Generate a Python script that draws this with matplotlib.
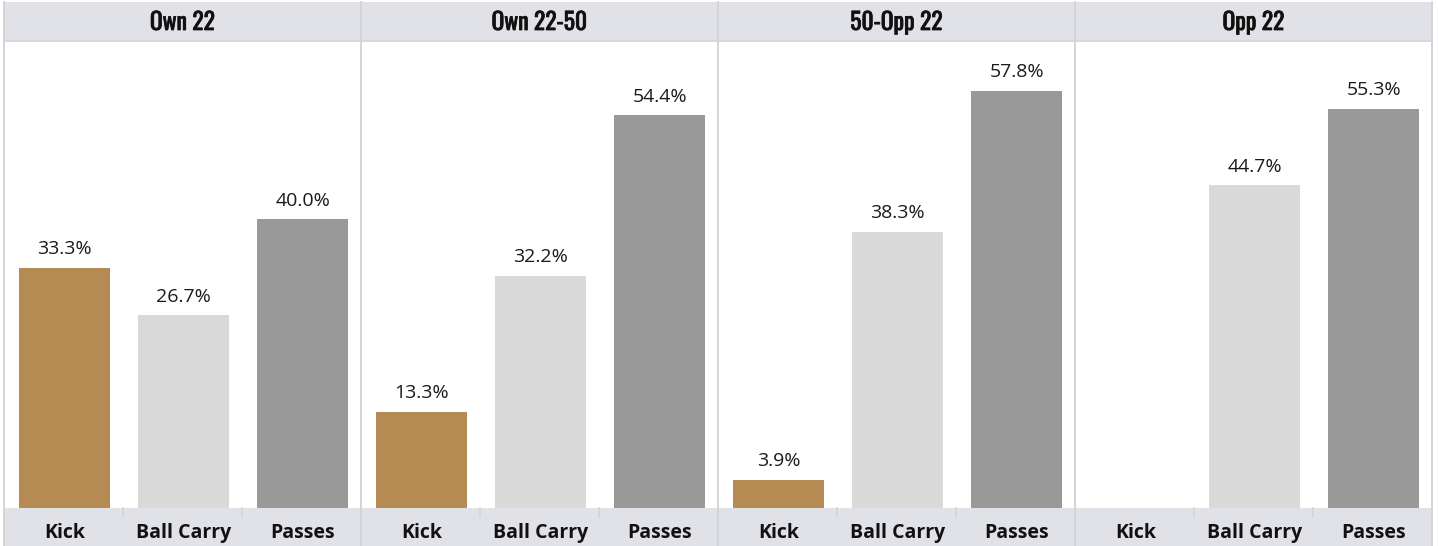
import matplotlib
matplotlib.use("Agg")
import matplotlib.pyplot as plt
import matplotlib.patheffects as pe
from matplotlib.patches import Rectangle
from matplotlib.lines import Line2D

zones = ["Own 22", "Own 22-50", "50-Opp 22", "Opp 22"]
actions = ["Kick", "Ball Carry", "Passes"]
kick = [33.3, 13.3, 3.9, 0.0]
ball_carry = [26.7, 32.2, 38.3, 44.7]
passes = [40.0, 54.4, 57.8, 55.3]

bar_colors = ["#B58B53", "#D9D9D9", "#999999"]
band_color = "#E1E2E7"
line_color = "#D3D4D8"
ui_font = ["Segoe UI", "Selawik", "Open Sans", "DejaVu Sans"]
head_font = ["Oswald", "Fira Sans Condensed", "DejaVu Sans"]

W, H = 1438, 546
fig = plt.figure(figsize=(W / 100, H / 100), dpi=100)
fig.patch.set_facecolor("white")

left, right = 4, 1432
head_top, head_bot = 2, 41
base_y = 508
pw = (right - left) / len(zones)


def fx(px):
    return px / W


def fy(py):
    return 1 - py / H


# header and footer bands
fig.add_artist(Rectangle((fx(left), fy(head_bot)), fx(right - left), (head_bot - head_top) / H,
                         transform=fig.transFigure, facecolor=band_color, edgecolor="none", zorder=0))
fig.add_artist(Rectangle((fx(left), 0), fx(right - left), (H - base_y) / H,
                         transform=fig.transFigure, facecolor=band_color, edgecolor="none", zorder=0))
fig.add_artist(Line2D([fx(left), fx(right)], [fy(head_bot), fy(head_bot)],
                      transform=fig.transFigure, color=line_color, lw=1.2, zorder=1))

for i in range(len(zones) + 1):
    x = left + i * pw
    fig.add_artist(Line2D([fx(x), fx(x)], [fy(head_top), 0], transform=fig.transFigure,
                          color=line_color, lw=1.4, zorder=5))

for i, zone in enumerate(zones):
    x0 = left + i * pw
    ax = fig.add_axes([fx(x0), fy(base_y), fx(pw), (base_y - head_bot) / H])
    ax.set_facecolor("white")
    vals = [kick[i], ball_carry[i], passes[i]]
    xs = range(len(actions))
    bars = ax.bar(xs, vals, width=0.765, color=bar_colors, zorder=2)
    ax.set_xlim(-0.511, 2.489)
    ax.set_ylim(0, 64.7)
    for b, v in zip(bars, vals):
        if v > 0:
            ax.annotate(f"{v:.1f}%", (b.get_x() + b.get_width() / 2, v), xytext=(0, 7),
                        textcoords="offset points", ha="center", va="bottom",
                        fontsize=14, family=ui_font, color="#1A1A1A")
    ax.set_yticks([])
    ax.set_xticks(list(xs))
    ax.set_xticklabels(actions, fontsize=14, fontweight="bold", family=ui_font, color="#111111")
    ax.tick_params(axis="x", length=0, pad=11)
    for s in ax.spines.values():
        s.set_visible(False)
    # small separators between category labels
    for k in (1, 2):
        xd = x0 + k * pw / 3
        fig.add_artist(Line2D([fx(xd), fx(xd)], [fy(base_y), fy(base_y + 9)],
                              transform=fig.transFigure, color=line_color, lw=1.2, zorder=5))
    fig.text(fx(x0 + pw / 2), fy((head_top + head_bot) / 2 + 1), zone, ha="center", va="center",
             fontsize=17, family=head_font, color="#111111",
             path_effects=[pe.withStroke(linewidth=0.55, foreground="#111111")])

fig.savefig("out.png", dpi=100)
